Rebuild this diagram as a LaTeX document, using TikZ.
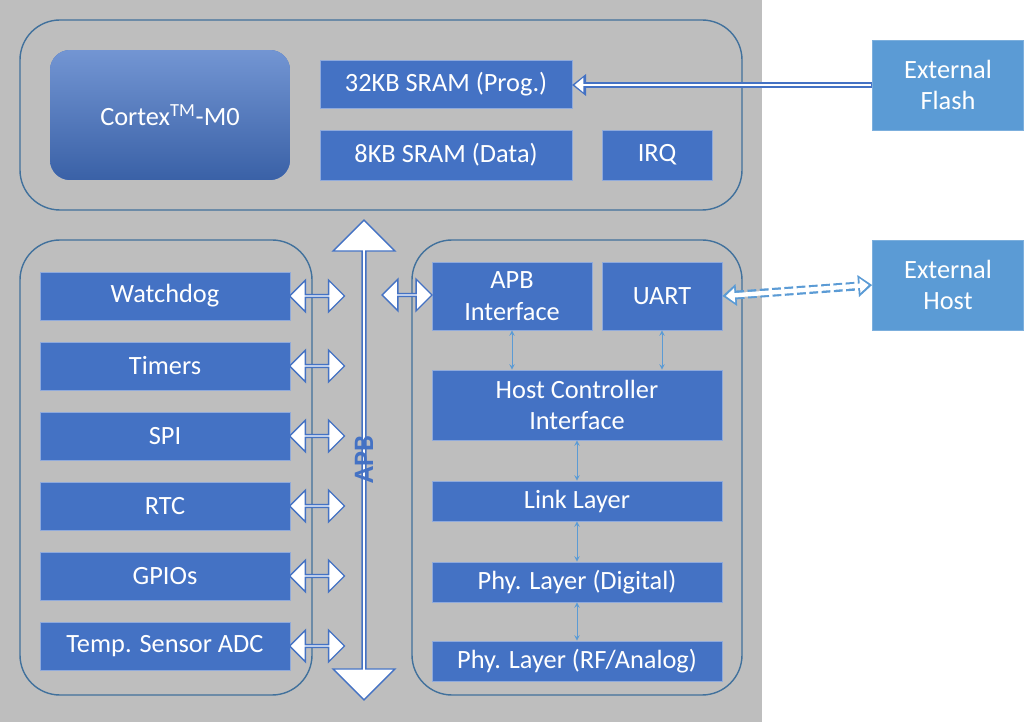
\documentclass[tikz,border=0pt]{standalone}
\usepackage{fontspec}
\setmainfont{Carlito}
\usetikzlibrary{shapes.arrows,arrows.meta}
\definecolor{blk}{HTML}{4472C4}
\definecolor{ext}{HTML}{5B9BD5}
\definecolor{frm}{HTML}{41719C}
\definecolor{bg}{HTML}{BEBEBE}
\begin{document}
\begin{tikzpicture}[x=0.02cm,y=-0.02cm,
  blk/.style={fill=blk,draw=blk!60,text=white,inner sep=0pt,align=center,font=\fontsize{15}{18}\selectfont},
  ext/.style={blk,fill=ext,draw=ext!80},
  frame/.style={draw=frm,rounded corners=0.8cm,thick},
  bus/.style={double arrow,draw=blk,fill=white,line width=0.8pt,inner sep=0pt,double arrow head extend=4pt,minimum width=18pt},
  link/.style={draw=ext,<->,>=stealth,thin}]
  \useasboundingbox (0,0) rectangle (1024,722);
  \fill[bg] (0,0) rectangle (762,722);
  % frames
  \draw[frame] (20,20) rectangle (742,210);
  \draw[frame] (20,240) rectangle (312,695);
  \draw[frame] (412,240) rectangle (742,695);
  % core
  \node (cpu) at (170,115) [blk,draw=none,rounded corners=0.4cm,minimum width=4.8cm,minimum height=2.6cm,top color=blk!75!white,bottom color=blk!85!black] {Cortex\textsuperscript{TM}-M0};
  \node (prog) at (446,84) [blk,minimum width=5.04cm,minimum height=0.96cm] {32KB SRAM (Prog.)};
  \node (data) at (446,155) [blk,minimum width=5.04cm,minimum height=1cm] {8KB SRAM (Data)};
  \node (irq) at (657,155) [blk,minimum width=2.2cm,minimum height=1cm] {IRQ};
  \node (flash) at (948,85) [ext,minimum width=3.02cm,minimum height=1.8cm] {External\\Flash};
  \node (host) at (948,285) [ext,minimum width=3.02cm,minimum height=1.8cm] {External\\Host};
  % peripherals
  \foreach \n/\t/\y in {wdg/Watchdog/296,tim/Timers/366,spi/SPI/436,rtc/RTC/506,gpio/GPIOs/576,adc/Temp. Sensor ADC/646}{
    \node (\n) at (165,\y) [blk,minimum width=5cm,minimum height=0.96cm] {\t};
    \node (b\n) at (317,\y) [bus,minimum height=1.1cm] {};
  }
  % APB bus
  \node (apb) at (364,460) [bus,rotate=90,minimum height=9.6cm,minimum width=1.24cm,double arrow head extend=0.22cm] {};
  \node at (apb.center) [rotate=90,text=blk,font=\fontsize{16}{18}\selectfont\bfseries] {APB};
  % bluetooth stack
  \node (apbif) at (512,296) [blk,minimum width=3.2cm,minimum height=1.36cm] {APB\\Interface};
  \node (uart) at (662,296) [blk,minimum width=2.4cm,minimum height=1.36cm] {UART};
  \node (hci) at (577,405) [blk,minimum width=5.8cm,minimum height=1.4cm] {Host Controller\\Interface};
  \node (ll) at (577,501) [blk,minimum width=5.8cm,minimum height=0.8cm] {Link Layer};
  \node (phyd) at (577,582) [blk,minimum width=5.8cm,minimum height=0.8cm] {Phy. Layer (Digital)};
  \node (phyr) at (577,661) [blk,minimum width=5.8cm,minimum height=0.8cm] {Phy. Layer (RF/Analog)};
  \node (bif) at (407,295) [bus,minimum height=1cm] {};
  % connectors
  \draw[link] (apbif.south) -- (apbif.south |- hci.north);
  \draw[link] (uart.south) -- (uart.south |- hci.north);
  \draw[link] (hci) -- (ll);
  \draw[link] (ll) -- (phyd);
  \draw[link] (phyd) -- (phyr);
  \coordinate (fl) at (572,85);
  \draw[draw=blk,line width=3pt,-{Triangle[length=8pt,width=12pt]}] (flash.west) -- (fl);
  \draw[white,line width=1.6pt,-{Triangle[length=5pt,width=8pt]}] ([xshift=-0.5pt]flash.west) -- ([xshift=1.5pt]fl);
  \draw[dotted,draw=ext,line width=5pt,{Triangle[length=8pt,width=12pt]}-{Triangle[length=8pt,width=12pt]}] (uart.east) -- (host.west);
  \draw[white,line width=2.5pt,{Triangle[length=5pt,width=8pt]}-{Triangle[length=5pt,width=8pt]}] ([xshift=2pt]uart.east) -- ([xshift=-2pt]host.west);
\end{tikzpicture}
\end{document}
